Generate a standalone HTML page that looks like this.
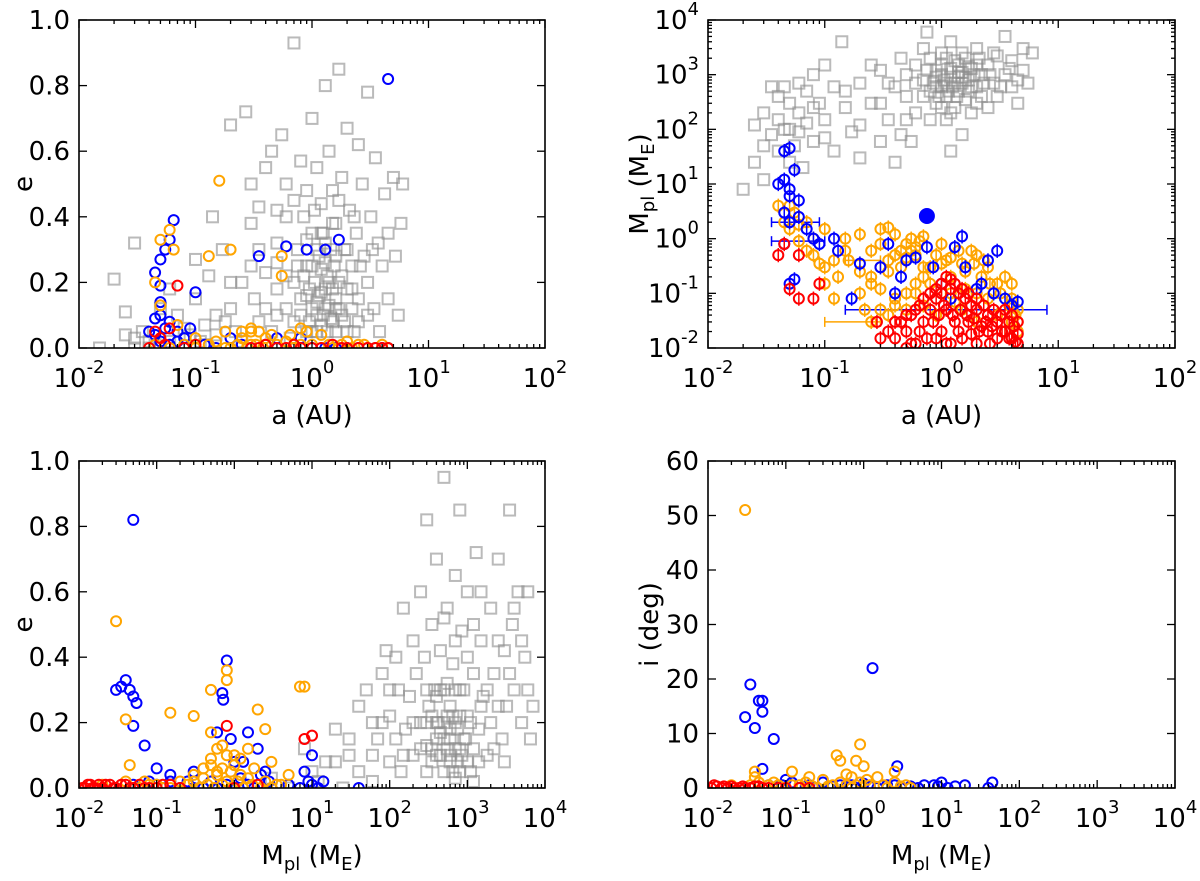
<!DOCTYPE html>
<html><head><meta charset="utf-8"><style>
html,body{margin:0;padding:0;background:#fff;}
svg{display:block;font-family:"DejaVu Sans","Liberation Sans",sans-serif;}
</style></head><body>
<svg id="fig" width="1200" height="881" viewBox="0 0 1200 881" xmlns="http://www.w3.org/2000/svg"></svg>
<script>
// ---------- data ----------
const tlGray=[[0.015,0.0],[0.02,0.21],[0.025,0.11],[0.03,0.32],[0.03,0.03],[0.035,0.05],[0.04,0.0],[0.04,0.02],[0.045,0.01],[0.05,0.0],[0.05,0.12],[0.06,0.18],[0.07,0.1],[0.08,0.06],[0.09,0.04],[0.1,0.27],[0.1,0.15],[0.11,0.02],[0.12,0.07],[0.13,0.22],[0.14,0.4],[0.15,0.1],[0.17,0.3],[0.2,0.68],[0.2,0.12],[0.22,0.05],[0.25,0.2],[0.27,0.72],[0.3,0.5],[0.3,0.38],[0.32,0.15],[0.35,0.08],[0.4,0.55],[0.4,0.23],[0.45,0.6],[0.5,0.42],[0.5,0.1],[0.55,0.65],[0.6,0.4],[0.6,0.22],[0.65,0.03],[0.7,0.93],[0.7,0.45],[0.75,0.3],[0.8,0.57],[0.8,0.15],[0.85,0.4],[0.9,0.25],[0.9,0.48],[1.0,0.7],[1.0,0.35],[1.0,0.12],[1.05,0.2],[1.1,0.55],[1.1,0.05],[1.15,0.28],[1.2,0.17],[1.2,0.44],[1.25,0.1],[1.3,0.8],[1.3,0.32],[1.35,0.22],[1.4,0.13],[1.4,0.6],[1.5,0.48],[1.5,0.08],[1.55,0.25],[1.6,0.38],[1.6,0.15],[1.7,0.85],[1.7,0.2],[1.8,0.52],[1.8,0.1],[1.9,0.3],[2.0,0.67],[2.0,0.18],[2.1,0.42],[2.2,0.25],[2.3,0.05],[2.4,0.35],[2.5,0.62],[2.5,0.15],[2.7,0.5],[2.8,0.28],[3.0,0.78],[3.0,0.2],[3.2,0.4],[3.4,0.12],[3.5,0.58],[3.7,0.32],[4.0,0.25],[4.2,0.47],[4.5,0.15],[5.0,0.52],[5.2,0.28],[5.5,0.1],[5.8,0.38],[6.0,0.5],[0.9,0.16],[1.1,0.14],[1.3,0.18],[1.6,0.12],[0.95,0.08],[1.2,0.24],[0.7,0.2],[0.5,0.32],[2.2,0.12],[1.45,0.3]];
const tlGrayExtra=[[0.8,0.1],[0.85,0.22],[0.9,0.33],[0.95,0.18],[1.0,0.05],[1.0,0.25],[1.05,0.42],[1.1,0.1],[1.1,0.3],[1.15,0.16],[1.2,0.07],[1.25,0.35],[1.3,0.12],[1.3,0.26],[1.35,0.05],[1.4,0.2],[1.45,0.09],[1.5,0.18],[1.5,0.38],[1.6,0.05],[1.6,0.28],[1.7,0.12],[1.8,0.22],[1.9,0.08],[2.0,0.3],[2.0,0.05],[2.2,0.18],[2.5,0.08],[2.6,0.25],[3.0,0.1],[3.3,0.3],[3.8,0.05],[4.5,0.35],[0.6,0.12],[0.7,0.08],[0.75,0.25],[0.5,0.18],[0.45,0.05],[0.4,0.12],[0.3,0.25],[0.25,0.02],[0.15,0.04],[0.06,0.02],[0.03,0.0],[0.025,0.04],[0.12,0.01],[0.2,0.2],[0.35,0.3],[1.2,0.35],[0.9,0.05],[1.7,0.45],[2.3,0.4],[0.6,0.5],[0.5,0.26],[0.35,0.43],[0.18,0.08]];
const tlBlue=[[4.5,0.82],[0.065,0.39],[0.06,0.33],[0.055,0.3],[0.05,0.27],[0.045,0.23],[0.05,0.19],[0.1,0.17],[0.35,0.28],[0.6,0.31],[0.9,0.3],[1.3,0.3],[1.7,0.33],[0.05,0.14],[0.05,0.1],[0.06,0.08],[0.055,0.06],[0.07,0.05],[0.2,0.03],[0.5,0.03],[0.8,0.03],[0.3,0.0],[0.5,0.0],[0.7,0.0],[1.0,0.0],[1.3,0.0],[1.6,0.0],[2.0,0.0],[2.5,0.0],[3.0,0.0],[3.5,0.0],[4.0,0.0],[4.5,0.0],[0.07,0.02],[0.12,0.01],[0.04,0.05],[0.045,0.09],[0.045,0.04],[0.05,0.02],[0.06,0.01],[0.08,0.03],[0.09,0.06],[0.15,0.0],[0.25,0.01],[0.4,0.01]];
const tlOrange=[[0.16,0.51],[0.06,0.36],[0.05,0.33],[0.065,0.3],[0.045,0.2],[0.05,0.13],[0.13,0.28],[0.2,0.3],[0.55,0.28],[0.55,0.22],[0.6,0.02],[0.25,0.05],[0.3,0.06],[0.8,0.06],[1.2,0.04],[0.07,0.07],[0.1,0.03],[0.15,0.02],[0.4,0.01],[0.7,0.0],[1.0,0.01],[1.5,0.0],[2.0,0.02],[3.0,0.0],[0.045,0.01],[0.06,0.0],[0.08,0.01],[0.2,0.0],[0.3,0.01],[0.35,0.05],[0.45,0.04],[0.9,0.05],[1.8,0.01],[2.5,0.01],[0.1,0],[0.13,0.01],[0.18,0],[0.23,0.01],[0.28,0],[0.33,0.01],[0.38,0],[0.5,0.01],[0.6,0],[0.8,0.01],[1.2,0],[1.4,0.01],[1.7,0],[2.2,0],[2.8,0.01],[3.5,0],[4.0,0.01],[4.5,0],[0.25,0.03],[0.4,0.03],[0.65,0.04],[0.3,0.05],[0.18,0.05]];
const tlRed=[[0.07,0.19],[0.045,0.05],[0.05,0.03],[0.055,0.01],[0.06,0.06],[0.08,0.0],[0.1,0.01],[0.3,0.0],[0.5,0.0],[1.0,0.0],[2.0,0.0],[3.0,0.0],[4.0,0.0],[0.04,0.0],[0.35,0],[0.4,0.01],[0.6,0],[0.7,0.01],[0.8,0],[1.2,0],[1.5,0.01],[1.8,0],[2.5,0],[3.5,0],[4.5,0]];

const trGray=[[0.02,8],[0.025,25],[0.03,50],[0.03,12],[0.035,80],[0.04,150],[0.04,400],[0.045,600],[0.05,300],[0.05,100],[0.055,50],[0.06,700],[0.06,200],[0.065,20],[0.07,500],[0.07,130],[0.08,1000],[0.08,60],[0.09,300],[0.1,150],[0.1,1500],[0.12,40],[0.12,600],[0.14,4000],[0.15,250],[0.17,90],[0.2,700],[0.2,30],[0.25,300],[0.3,1200],[0.3,60],[0.35,150],[0.4,25],[0.4,600],[0.45,80],[0.5,400],[0.6,1500],[0.6,200],[0.7,800],[0.7,3000],[0.8,500],[0.8,150],[0.9,1200],[0.9,300],[1.0,600],[1.0,2500],[1.0,1000],[1.1,400],[1.1,150],[1.2,900],[1.2,4000],[1.3,700],[1.3,250],[1.4,1500],[1.4,500],[1.5,1100],[1.5,80],[1.6,350],[1.6,2000],[1.7,800],[1.8,1300],[1.8,200],[2.0,600],[2.0,3000],[2.2,1000],[2.2,400],[2.5,1500],[2.5,250],[2.8,700],[3.0,2200],[3.0,400],[3.5,1000],[3.5,5000],[4.0,600],[4.0,1800],[4.5,300],[5.0,1200],[5.5,700],[6.0,2500],[0.55,60],[1.2,40],[0.75,6000],[1.1,700],[1.4,900],[0.9,600],[1.7,500],[2.0,1500]];
const trGrayExtra=[[0.7,400],[0.75,1200],[0.8,2000],[0.85,700],[0.9,900],[0.95,400],[1.0,1500],[1.05,800],[1.1,2000],[1.15,500],[1.2,1300],[1.25,600],[1.3,1800],[1.35,400],[1.4,1100],[1.5,700],[1.5,2500],[1.6,900],[1.7,1400],[1.8,600],[1.9,1000],[2.0,300],[2.1,2000],[2.3,700],[2.6,1000],[2.8,2500],[3.2,600],[3.8,1300],[4.5,800],[5.0,3000],[1.0,250],[1.2,200],[0.6,700],[0.5,1000],[0.45,2000],[0.04,40],[0.045,100],[0.05,25],[0.06,90],[0.08,250],[0.1,70],[0.15,500],[0.2,120],[0.25,1500],[0.3,300],[0.5,150],[0.35,700],[0.03,200],[0.035,600],[0.025,120]];
const trBlue=[[0.045,40],[0.05,45],[0.04,10],[0.045,12],[0.05,8],[0.055,18],[0.05,6],[0.06,5],[0.045,3],[0.05,2],[0.06,2.5],[0.07,1.5],[0.08,1],[0.09,0.8],[0.045,0.8],[0.05,0.15],[0.055,0.18],[0.12,1.0],[0.13,0.6],[0.2,0.35],[0.17,0.08],[0.35,0.8],[0.3,0.3],[0.4,0.1],[0.45,0.2],[0.5,0.4],[0.6,0.45],[0.75,0.7],[0.85,0.3],[1.0,0.15],[1.2,0.08],[1.3,0.7],[1.5,1.1],[1.6,0.3],[2.0,0.12],[2.5,0.4],[3.0,0.6],[3.5,0.08],[4.0,0.06],[4.5,0.07],[2.8,0.1],[2.2,0.15]];
const trBlueFilled=[[0.75,2.6]];
const trOrange=[[0.04,4],[0.045,2],[0.05,1.5],[0.055,3],[0.06,1.8],[0.07,0.6],[0.08,0.5],[0.09,0.35],[0.1,0.3],[0.12,0.4],[0.15,1],[0.16,0.4],[0.2,0.25],[0.22,0.05],[0.25,0.15],[0.3,0.12],[0.35,0.25],[0.3,1.5],[0.35,1.6],[0.4,1.2],[0.45,0.6],[0.5,0.8],[0.55,1.0],[0.6,0.5],[0.7,0.3],[0.25,0.03],[0.35,0.04],[0.5,0.05],[0.7,0.06],[1.0,0.1],[1.2,0.2],[1.5,0.35],[1.8,0.6],[2.0,0.5],[2.5,0.3],[3.0,0.15],[4.0,0.08],[4.5,0.05],[0.9,0.04],[1.5,0.05],[2.0,0.03],[3.0,0.04],[4.0,0.03],[0.8,0.15],[1.1,0.4],[2.2,0.2],[1.0,0.8],[0.12,0.08],[0.4,0.08],[0.6,0.1],[3.5,0.02],[4.5,0.02],[1.3,0.07]];
const trOrangeExtra=[[0.3,0.05],[0.4,0.06],[0.5,0.1],[0.6,0.15],[0.7,0.2],[0.8,0.3],[0.9,0.5],[1.0,0.35],[1.2,0.45],[1.4,0.6],[1.6,0.25],[1.9,0.35],[2.3,0.4],[2.6,0.15],[3.2,0.1],[3.8,0.06],[4.3,0.04],[4.5,0.03],[2.5,0.08],[2.0,0.1],[1.6,0.12],[1.2,0.1],[0.35,0.4],[0.4,0.5],[0.3,0.3],[0.25,0.2],[0.45,0.3],[0.5,0.45],[0.55,0.6],[0.6,0.7],[0.65,0.9],[0.7,1.1],[0.3,0.8],[0.25,0.6],[0.2,0.1],[0.2,1.2],[0.1,1.5],[0.08,1.0],[0.07,2.0],[0.06,0.9],[0.1,0.15],[0.13,0.2],[0.15,0.6],[0.05,4],[3.5,0.2],[4.0,0.15]];
const trRed=[[0.04,0.5],[0.045,0.8],[0.05,0.12],[0.06,0.08],[0.08,0.08],[0.09,0.15],[0.06,0.5],[0.28,0.03],[0.35,0.02],[0.4,0.015],[0.5,0.02],[0.6,0.012],[0.7,0.03],[0.8,0.05],[0.9,0.08],[1.0,0.1],[1.2,0.12],[1.4,0.1],[1.6,0.08],[1.8,0.06],[2.0,0.05],[2.5,0.04],[3.0,0.03],[3.5,0.02],[4.0,0.015],[4.5,0.012],[1.0,0.02],[1.5,0.015],[2.0,0.012],[2.5,0.02],[3.0,0.015],[0.45,0.03],[0.55,0.04],[1.1,0.05],[1.3,0.03],[1.7,0.03],[2.2,0.025],[0.75,0.015],[1.2,0.012],[4.5,0.03],[4.0,0.04],[3.5,0.05],[0.65,0.06],[0.5,0.01]];
const trRedExtra=[[0.3,0.015],[0.4,0.03],[0.5,0.04],[0.6,0.05],[0.7,0.08],[0.8,0.1],[0.9,0.12],[1.0,0.15],[1.1,0.2],[1.2,0.18],[1.3,0.15],[1.5,0.12],[1.7,0.1],[2.0,0.08],[2.3,0.06],[2.8,0.05],[3.2,0.04],[3.8,0.03],[4.2,0.025],[4.5,0.018],[0.55,0.012],[0.65,0.02],[0.85,0.03],[0.95,0.04],[1.05,0.06],[1.25,0.04],[1.45,0.05],[1.65,0.04],[1.9,0.035],[2.1,0.02],[2.4,0.03],[2.7,0.025],[3.3,0.02],[3.8,0.015],[4.3,0.013],[0.9,0.015],[1.1,0.012],[1.4,0.02],[1.8,0.018],[2.6,0.012]];
const errLo=[0.15,0.1,0.035,0.035,0.15];
const errHi=[8,0.3,0.09,0.1,0.3];
const errM=[0.05,0.03,2,0.9,0.4];
const errColor=["blue","orange","blue","blue","orange"];

const blGray=[[20,0.18],[30,0.1],[40,0.05],[50,0.3],[60,0.2],[70,0.15],[80,0.35],[90,0.42],[100,0.22],[100,0.08],[120,0.4],[130,0.3],[140,0.05],[150,0.55],[160,0.18],[180,0.28],[200,0.1],[200,0.45],[220,0.35],[250,0.6],[250,0.2],[280,0.4],[300,0.13],[300,0.82],[320,0.25],[350,0.5],[380,0.3],[400,0.1],[400,0.7],[420,0.2],[450,0.42],[500,0.15],[500,0.95],[500,0.3],[550,0.55],[600,0.1],[600,0.25],[650,0.38],[700,0.2],[700,0.65],[750,0.08],[800,0.3],[850,0.48],[900,0.15],[1000,0.22],[1000,0.6],[1100,0.05],[1200,0.35],[1300,0.72],[1400,0.18],[1500,0.45],[1600,0.28],[1800,0.1],[2000,0.55],[2000,0.2],[2200,0.35],[2500,0.7],[2800,0.15],[3000,0.42],[3200,0.25],[3500,0.85],[3800,0.5],[4000,0.3],[4500,0.6],[5000,0.2],[5500,0.4],[6000,0.3],[7000,0.25],[350,0.12],[450,0.17],[600,0.18],[800,0.12],[550,0.22],[400,0.28],[300,0.05],[700,0.03],[1200,0.02],[10,0.05],[5,0.0],[8,0.12],[15,0.08],[12,0.02],[3,0.03],[1.5,0.0],[25,0.0],[60,0.02]];
const blGrayExtra=[[200,0.2],[250,0.12],[300,0.2],[300,0.3],[350,0.08],[350,0.22],[400,0.15],[400,0.2],[450,0.1],[450,0.3],[500,0.05],[500,0.2],[550,0.12],[550,0.32],[600,0.08],[600,0.15],[650,0.22],[650,0.05],[700,0.12],[700,0.3],[750,0.18],[800,0.05],[800,0.22],[850,0.1],[900,0.3],[950,0.15],[1000,0.08],[1100,0.2],[1200,0.12],[1400,0.08],[1500,0.25],[1800,0.3],[2200,0.12],[3000,0.08],[150,0.1],[120,0.15],[100,0.3],[80,0.2],[60,0.1],[40,0.25],[30,0.15],[20,0.08],[700,0.45],[500,0.52],[1000,0.4],[1500,0.6],[2500,0.45],[3500,0.35],[4000,0.55],[5000,0.45],[6000,0.6],[6500,0.15],[800,0.85],[2500,0.25],[1200,0.5]];
const blBlue=[[0.05,0.82],[0.03,0.3],[0.035,0.31],[0.04,0.33],[0.045,0.3],[0.05,0.28],[0.055,0.26],[0.05,0.19],[0.07,0.13],[0.8,0.39],[0.7,0.29],[0.72,0.27],[0.6,0.17],[1.5,0.17],[0.9,0.15],[2.0,0.12],[10,0.1],[8,0.05],[1.0,0.08],[0.3,0.05],[0.15,0.04],[0.1,0.06],[2.5,0.05],[1.3,0.08],[0.5,0.02],[0.2,0.0],[0.1,0.01],[0.07,0.0],[0.3,0.0],[0.6,0.0],[1.0,0.0],[1.8,0.0],[3.0,0.0],[10,0.01],[12,0.0],[40,0.0],[14,0.02],[2.8,0.02],[0.05,0.01],[0.08,0.02],[0.12,0],[0.25,0.02],[0.4,0],[0.8,0.01],[1.2,0.03],[1.5,0.01],[2.2,0.04],[5,0.01],[7,0],[9,0.02],[0.15,0.02]];
const blOrange=[[0.03,0.51],[0.04,0.21],[0.045,0.07],[0.5,0.3],[0.8,0.36],[0.8,0.33],[0.3,0.22],[0.15,0.23],[0.5,0.17],[0.7,0.13],[2.0,0.24],[2.5,0.18],[7,0.31],[8,0.31],[1.5,0.12],[1.0,0.07],[0.5,0.09],[0.8,0.1],[1.2,0.09],[3.0,0.08],[0.2,0.02],[0.1,0.01],[0.05,0.0],[0.3,0.04],[0.6,0.05],[1.5,0.03],[2.5,0.02],[5,0.04],[0.04,0.02],[0.02,0.0],[0.07,0.02],[0.8,0.02],[1.8,0.06],[3.5,0.01],[0.4,0.06],[1.1,0.02],[0.015,0],[0.02,0.01],[0.03,0],[0.06,0],[0.08,0.01],[0.12,0],[0.15,0],[0.25,0.01],[0.35,0],[0.45,0.01],[0.55,0],[0.7,0.01],[0.9,0],[1.3,0],[1.7,0.01],[2.2,0],[3,0],[4,0.01],[0.4,0.03],[0.6,0.04],[0.9,0.05],[1.2,0.04],[0.7,0.06],[0.3,0.02],[0.5,0.07],[1.0,0.1],[0.6,0.12]];
const blRed=[[0.8,0.19],[10,0.16],[8,0.15],[0.013,0.01],[0.015,0.0],[0.02,0.0],[0.025,0.01],[0.03,0.0],[0.04,0.01],[0.05,0.0],[0.07,0.0],[0.1,0.0],[0.15,0.01],[0.2,0.0],[0.012,0.0],[0.018,0.01],[2.0,0.01],[1.0,0.0],[0.011,0.0],[0.014,0.01],[0.016,0],[0.022,0.01],[0.028,0],[0.035,0.01],[0.045,0],[0.06,0.01],[0.08,0],[0.12,0.01]];

const brBlue=[[0.035,19],[0.03,13],[0.04,11],[0.045,16],[0.05,16],[0.05,14],[0.07,9],[0.05,3.5],[1.3,22],[2.7,4],[45,1],[0.1,1.5],[0.2,0.5],[0.3,1],[0.5,0.5],[0.8,0],[1.0,0.8],[1.5,0],[2.0,0.5],[3.0,0],[5,0],[8,0.5],[10,1],[12,0],[15,0.3],[0.15,0],[0.08,0.3],[0.25,0],[0.6,0.2],[40,0],[0.06,0.5],[0.09,0.5],[0.12,1],[0.18,0.3],[0.4,0.3],[0.7,0.5],[1.2,0.3],[2.5,0.5],[4,0.3],[6,0.5],[9,0.3],[20,0.5]];
const brOrange=[[0.03,51],[0.9,8],[0.45,6],[0.5,5],[0.8,5],[1.0,4],[0.12,3],[0.04,3],[0.04,2],[0.2,2],[0.3,1.5],[0.6,2.5],[1.5,2],[2.5,3],[0.07,1],[0.02,0.5],[0.05,0],[0.1,0],[0.15,0.5],[0.25,0],[0.4,0.5],[0.7,0],[1.2,0.5],[2.0,0],[3.5,0.5],[4.0,0],[0.03,0],[0.6,0.5],[0.9,1],[0.035,0.5],[0.045,1],[0.06,0.5],[0.08,0.5],[0.12,0.5],[0.18,1],[0.22,0.3],[0.35,0.3],[0.5,1],[0.7,2],[0.8,0.5],[1.1,1.5],[1.8,0.5],[2.5,1],[3,0.3]];
const brRed=[[0.011,0],[0.013,0.3],[0.015,0],[0.018,0],[0.02,0.3],[0.025,0],[0.03,0],[0.04,0.3],[0.05,0],[0.06,0],[0.08,0],[0.1,0],[0.15,0],[0.2,0],[0.012,0.5],[0.016,0.3],[0.022,0],[0.028,0.3],[0.035,0],[0.045,0.3]];

const linTicksE=["0.0","0.2","0.4","0.6","0.8","1.0"];
const linTicksI=["0","10","20","30","40","50","60"];
const logTicksA=["-2","-1","0","1","2"];
const logTicksM=["-2","-1","0","1","2","3","4"];

// ---------- drawing ----------
const NS="http://www.w3.org/2000/svg";
const svg=document.getElementById('fig');
function el(tag,attrs,parent){const e=document.createElementNS(NS,tag);for(const k in attrs)e.setAttribute(k,attrs[k]);(parent||svg).appendChild(e);return e;}
const COL={gray:"#8c8c8c",blue:"#0000ff",orange:"#ffa500",red:"#ff0000"};

function makePanel(name,x0,x1,y0,y1,xlog,xmin,xmax,ylog,ymin,ymax){
  const g=el('g',{});
  
  
  const sx=v=>{const t=xlog?Math.log10(v):v;return x0+(t-xmin)/(xmax-xmin)*(x1-x0);};
  const sy=v=>{let t=ylog?Math.log10(v):v;return y1-(t-ymin)/(ymax-ymin)*(y1-y0);};
  return {g,sx,sy,x0,x1,y0,y1,xlog,xmin,xmax,ylog,ymin,ymax};
}
function frame(p,xTicks,yTicks,xlabel,ylabel,ylabelX){
  const ax=el('g',{},p.g);
  
  
  const tick=(x1,y1,x2,y2)=>el('line',{x1,y1,x2,y2,stroke:'#000','stroke-width':1.3},ax);
  for(let i=0;i<xTicks.length;i++){
    const d=p.xmin+i*(p.xmax-p.xmin)/(xTicks.length-1);
    const x=p.x0+(d-p.xmin)/(p.xmax-p.xmin)*(p.x1-p.x0);
    tick(x,p.y1,x,p.y1-8);tick(x,p.y0,x,p.y0+8);
    const t=el('text',{x:x,y:p.y1+39,'text-anchor':'middle','font-size':26},ax);
    
    
    if(p.xlog){t.appendChild(document.createTextNode('10'));const s=el('tspan',{dy:-14,'font-size':18},t);s.textContent=xTicks[i];}
    else t.textContent=xTicks[i];
    if(p.xlog&&i<xTicks.length-1){for(let m=2;m<10;m++){const xm=x+Math.log10(m)*(p.x1-p.x0)/(xTicks.length-1);tick(xm,p.y1,xm,p.y1-4);tick(xm,p.y0,xm,p.y0+4);}}
  }
  for(let i=0;i<yTicks.length;i++){
    const d=p.ymin+i*(p.ymax-p.ymin)/(yTicks.length-1);
    const y=p.y1-(d-p.ymin)/(p.ymax-p.ymin)*(p.y1-p.y0);
    tick(p.x0,y,p.x0+8,y);tick(p.x1,y,p.x1-8,y);
    const t=el('text',{x:p.x0-9,y:y+9,'text-anchor':'end','font-size':26},ax);
    
    
    if(p.ylog){t.appendChild(document.createTextNode('10'));const s=el('tspan',{dy:-14,'font-size':18},t);s.textContent=yTicks[i];}
    else t.textContent=yTicks[i];
    if(p.ylog&&i<yTicks.length-1){for(let m=2;m<10;m++){const ym=y-Math.log10(m)*(p.y1-p.y0)/(yTicks.length-1);tick(p.x0,ym,p.x0+4,ym);tick(p.x1,ym,p.x1-4,ym);}}
  }
  const r=el('rect',{x:p.x0,y:p.y0,width:p.x1-p.x0,height:p.y1-p.y0,fill:'none',stroke:'#000','stroke-width':1.6},ax);
  
  
  const xl=el('text',{x:(p.x0+p.x1)/2,y:p.y1+76,'text-anchor':'middle','font-size':26},p.g);
  
  
  fillLabel(xl,xlabel);
  const cy=(p.y0+p.y1)/2;
  const yl=el('text',{x:ylabelX,y:cy,'text-anchor':'middle','font-size':26,transform:`rotate(-90 ${ylabelX} ${cy})`},p.g);
  
  
  fillLabel(yl,ylabel);
}
function fillLabel(t,lab){
  if(lab==='M'){
    t.appendChild(document.createTextNode('M'));
    const a=el('tspan',{'font-size':18,dy:6},t);a.textContent='pl';
    const b=el('tspan',{dy:-6},t);b.textContent=' (M';
    const c=el('tspan',{'font-size':18,dy:6},t);c.textContent='E';
    const d=el('tspan',{dy:-6},t);d.textContent=')';
  } else t.textContent=lab;
}
function squares(p,data,name){
  const g=el('g',{},p.g);
  
  
  data.forEach(d=>{const x=p.sx(d[0]),y=p.sy(d[1]);
    const r=el('rect',{x:x-5.5,y:y-5.5,width:11,height:11,fill:'none',stroke:COL.gray,'stroke-width':2,'stroke-opacity':0.6},g);
    
    });
}
function circles(p,data,color,name,vbar,filled){
  const g=el('g',{},p.g);
  
  
  data.forEach(d=>{const x=p.sx(d[0]),y=p.sy(d[1]);
    if(vbar){const l=el('line',{x1:x,x2:x,y1:p.sy(d[1]*1.35),y2:p.sy(d[1]/1.35),stroke:COL[color],'stroke-width':1.5},g);
      
      }
    const c=el('circle',{cx:x,cy:y,r:filled?7:5,fill:filled?COL[color]:'none',stroke:COL[color],'stroke-width':2},g);
    
    });
}
function clip(p,id){const cp=el('clipPath',{id});el('rect',{x:p.x0,y:p.y0-6,width:p.x1-p.x0,height:p.y1-p.y0+6},cp);}

// Panel TL
const tl=makePanel('panel-e-vs-a',79,545,20,348,true,-2,2,false,0,1);
clip(tl,'c1');
const tlD=el('g',{'clip-path':'url(#c1)'},tl.g);
const tlP=Object.assign({},tl,{g:tlD});
squares(tlP,tlGray.concat(tlGrayExtra),'observed-planets');
circles(tlP,tlBlue,'blue','blue-planets');
circles(tlP,tlOrange,'orange','orange-planets');
circles(tlP,tlRed,'red','red-planets');
frame(tl,logTicksA,linTicksE,'a (AU)','e',32);

// Panel TR
const tr=makePanel('panel-mass-vs-a',708,1175,20,348,true,-2,2,true,-2,4);
clip(tr,'c2');
const trD=el('g',{'clip-path':'url(#c2)'},tr.g);
const trP=Object.assign({},tr,{g:trD});
squares(trP,trGray.concat(trGrayExtra),'observed-planets');
errLo.forEach((lo,i)=>{const y=tr.sy(errM[i]);
  const l=el('line',{x1:tr.sx(lo),x2:tr.sx(errHi[i]),y1:y,y2:y,stroke:COL[errColor[i]],'stroke-width':1.5},trD);
  
  
  [lo,errHi[i]].forEach(v=>{const c=el('line',{x1:tr.sx(v),x2:tr.sx(v),y1:y-5,y2:y+5,stroke:COL[errColor[i]],'stroke-width':1.5},trD);
    
    });});
circles(trP,trOrange.concat(trOrangeExtra),'orange','orange-planets',true);
circles(trP,trBlue,'blue','blue-planets',true);
circles(trP,trBlueFilled,'blue','blue-filled-planet',false,true);
circles(trP,trRed.concat(trRedExtra),'red','red-planets',true);
frame(tr,logTicksA,logTicksM,'a (AU)','M',648);

// Panel BL
const bl=makePanel('panel-e-vs-mass',79,545,461,788,true,-2,4,false,0,1);
clip(bl,'c3');
const blD=el('g',{'clip-path':'url(#c3)'},bl.g);
const blP=Object.assign({},bl,{g:blD});
squares(blP,blGray.concat(blGrayExtra),'observed-planets');
circles(blP,blBlue,'blue','blue-planets');
circles(blP,blOrange,'orange','orange-planets');
circles(blP,blRed,'red','red-planets');
frame(bl,logTicksM,linTicksE,'M','e',32);

// Panel BR
const br=makePanel('panel-inclination-vs-mass',708,1175,461,788,true,-2,4,false,0,60);
clip(br,'c4');
const brD=el('g',{'clip-path':'url(#c4)'},br.g);
const brP=Object.assign({},br,{g:brD});
circles(brP,brBlue,'blue','blue-planets');
circles(brP,brOrange,'orange','orange-planets');
circles(brP,brRed,'red','red-planets');
frame(br,logTicksM,linTicksI,'M','i (deg)',658);
</script>
</body></html>
